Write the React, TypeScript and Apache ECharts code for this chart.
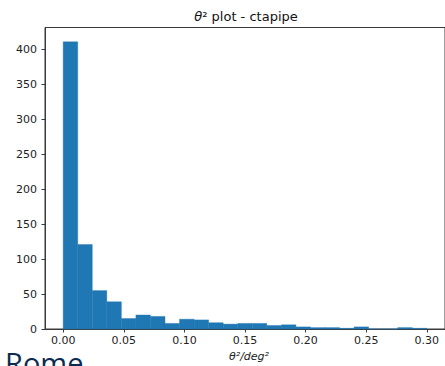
import React, { useEffect, useRef } from "react";
import * as echarts from "echarts";

// Histogram of theta^2 (25 bins of 0.012 deg^2 from 0 to 0.30)
const BIN_START = 0;
const BIN_WIDTH = 0.012;
const COUNTS = [411, 121, 55, 39, 15, 20, 18, 8, 14, 13, 9, 7, 8, 8, 5, 6, 3, 2, 2, 1, 3, 0, 0, 2, 1];
const X_TICKS = [0, 0.05, 0.1, 0.15, 0.2, 0.25, 0.3];
const Y_TICKS = [0, 50, 100, 150, 200, 250, 300, 350, 400];
const TITLE_SYMBOL = "θ";
const TITLE_REST = "² plot - ctapipe";
const X_LABEL = "θ²/deg²";
const WATERMARK = "Rome";

export default function App() {
  const ref = useRef<HTMLDivElement>(null);
  useEffect(() => {
    document.body.style.margin = "0";
    if (!ref.current) return;
    const chart = echarts.init(ref.current, null, { renderer: "svg" });
    const data = COUNTS.map((c, i) => [
      BIN_START + i * BIN_WIDTH,
      BIN_START + (i + 1) * BIN_WIDTH,
      c,
    ]);
    const maxC = Math.max(...COUNTS);
    const axisColor = "#3a3a3a";
    const labelColor = "#222";
    chart.setOption({
      animation: false,
      backgroundColor: "#fff",
      grid: {
        left: 45,
        top: 27.5,
        width: 402.6,
        height: 301.5,
        show: true,
        borderColor: axisColor,
        borderWidth: 1,
        backgroundColor: "transparent",
      },
      xAxis: {
        type: "value",
        min: -0.015,
        max: 0.315,
        axisLine: { show: true, onZero: false, lineStyle: { color: axisColor, width: 1 } },
        axisTick: { show: true, length: 3.5, customValues: X_TICKS, lineStyle: { color: axisColor } },
        axisLabel: {
          customValues: X_TICKS,
          formatter: (v: number) => v.toFixed(2),
          color: labelColor,
          fontFamily: "DejaVu Sans",
          fontSize: 11,
          margin: 6,
        },
        splitLine: { show: false },
      },
      yAxis: {
        type: "value",
        min: 0,
        max: maxC * 1.05,
        axisLine: { show: true, onZero: false, lineStyle: { color: axisColor, width: 1 } },
        axisTick: { show: true, length: 3.5, customValues: Y_TICKS, lineStyle: { color: axisColor } },
        axisLabel: {
          customValues: Y_TICKS,
          color: labelColor,
          fontFamily: "DejaVu Sans",
          fontSize: 11,
          margin: 8,
        },
        splitLine: { show: false },
      },
      series: [
        {
          type: "custom",
          data,
          encode: { x: [0, 1], y: 2 },
          renderItem: (params: any, api: any) => {
            const p0 = api.coord([api.value(0), api.value(2)]);
            const p1 = api.coord([api.value(1), 0]);
            return {
              type: "rect",
              shape: { x: p0[0], y: p0[1], width: p1[0] - p0[0], height: p1[1] - p0[1] },
              style: { fill: "#1f77b4", stroke: "#1f77b4", lineWidth: 0.4 },
            };
          },
        },
      ],
      graphic: [
        {
          type: "text",
          x: 246,
          y: 16.5,
          style: {
            text: "{i|" + TITLE_SYMBOL + "}" + TITLE_REST,
            fontFamily: "DejaVu Sans",
            fontSize: 13,
            fill: "#111",
            align: "center",
            verticalAlign: "middle",
            rich: {
              i: { fontFamily: "DejaVu Sans", fontStyle: "italic", fontSize: 13, fill: "#111" },
            },
          },
        },
        {
          type: "text",
          x: 249,
          y: 356,
          style: {
            text: X_LABEL,
            fontFamily: "DejaVu Sans",
            fontStyle: "italic",
            fontSize: 11,
            fill: "#222",
            align: "center",
            verticalAlign: "middle",
          },
        },
        {
          type: "text",
          x: 5,
          y: 348,
          style: {
            text: WATERMARK,
            fontFamily: "Open Sans",
            fontSize: 29,
            fill: "#0d2b52",
            align: "left",
            verticalAlign: "top",
          },
        },
      ],
    });
    return () => chart.dispose();
  }, []);
  return <div ref={ref} style={{ width: 445, height: 366 }} />;
}
